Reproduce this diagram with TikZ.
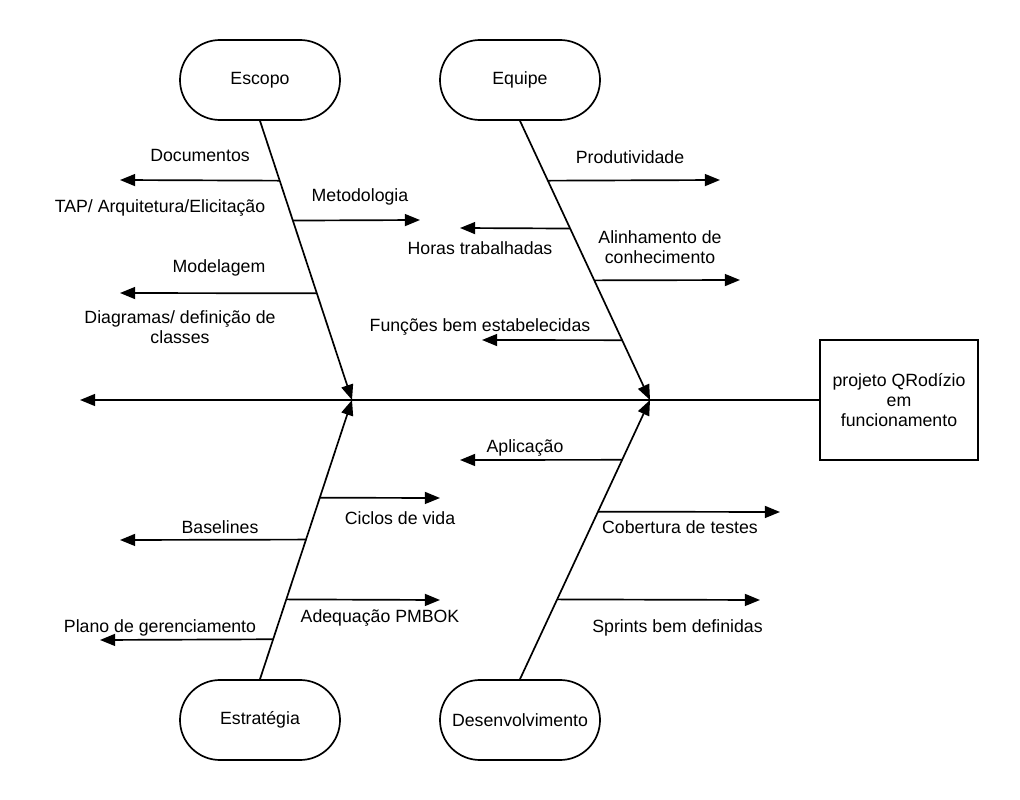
\documentclass[tikz,border=0pt]{standalone}
\usepackage{fontspec}
\setmainfont{Liberation Sans}
\usetikzlibrary{arrows.meta}
\tikzstyle{cause_box}=[rectangle,
                       minimum height=2cm,
                       minimum width=4cm,
                       draw=black,
                       line width=1.2pt,
                       rounded corners=1cm, ]
\tikzstyle{effect_box}=[rectangle,
                        minimum height=3cm,
                        minimum width=3.95cm,
                        draw=black,
                        line width=1.2pt,
                        align=center, ]
\tikzstyle{bone}=[line width=1.2pt, -{Triangle[length=3.8mm, width=3mm]}]
\tikzstyle{bone_label}=[align=center, inner sep=0pt]

\begin{document}
\begin{tikzpicture}[x=0.025cm, y=-0.025cm,
                    every node/.style={font=\fontsize{12.6}{14.5}\selectfont}]
    \useasboundingbox (0, 0) rectangle (1020, 800);

    \node at (260, 80) (esc) [cause_box] {Escopo};
    \node at (520, 80) (eqp) [cause_box] {Equipe};
    \node at (260, 720) (est) [cause_box] {Estratégia};
    \node at (520, 720) (dev) [cause_box] {Desenvolvimento};
    \node at (899, 400) (goal) [effect_box] {projeto QRodízio\\em\\funcionamento};

    \coordinate (hd1) at (352, 400);
    \coordinate (hd2) at (650, 400);
    \coordinate (tail) at (80, 400);

    \draw[bone] (goal.west) -- (tail);
    \draw[bone] (esc.south) -- (hd1);
    \draw[bone] (eqp.south) -- (hd2);
    \draw[bone] (est.north) -- (hd1);
    \draw[bone] (dev.north) -- (hd2);

    % small bones: start anchor / head / start y / branch y / tip x
    \foreach \a/\h/\ya/\y/\t [count=\i] in {esc.south/hd1/120/180/120,
                                             esc.south/hd1/120/220/420,
                                             esc.south/hd1/120/293/120,
                                             eqp.south/hd2/120/180/720,
                                             eqp.south/hd2/120/228/460,
                                             eqp.south/hd2/120/280/740,
                                             eqp.south/hd2/120/340/482,
                                             est.north/hd1/680/498/440,
                                             est.north/hd1/680/540/120,
                                             est.north/hd1/680/600/440,
                                             est.north/hd1/680/640/100,
                                             dev.north/hd2/680/460/460,
                                             dev.north/hd2/680/512/780,
                                             dev.north/hd2/680/600/760 } {
      \pgfmathsetmacro\f{abs(\y-\ya)/280}
      \path (\a) -- (\h) coordinate[pos=\f] (root_\i);
      \coordinate (tip_\i) at (\t, \y);
      \draw[bone] (root_\i) -- (tip_\i);
    }

    \foreach \x/\y/\txt [count=\i] in {200/155/{Documentos},
                                       160/208/{TAP/ Arquitetura/Elicitação},
                                       360/197/{Metodologia},
                                       219/268/{Modelagem},
                                       180/327/{Diagramas/ definição de\\classes},
                                       630/157/{Produtividade},
                                       480/248/{Horas trabalhadas},
                                       660/247/{Alinhamento de\\conhecimento},
                                       480/327/{Funções bem estabelecidas},
                                       400/518/{Ciclos de vida},
                                       220/527/{Baselines},
                                       380/618/{Adequação PMBOK},
                                       160/628/{Plano de gerenciamento},
                                       525/448/{Aplicação},
                                       680/527/{Cobertura de testes},
                                       680/628/{Sprints bem definidas} } {
      \node at (\x, \y) (lbl_\i) [bone_label] {\txt};
    }
\end{tikzpicture}
\end{document}
